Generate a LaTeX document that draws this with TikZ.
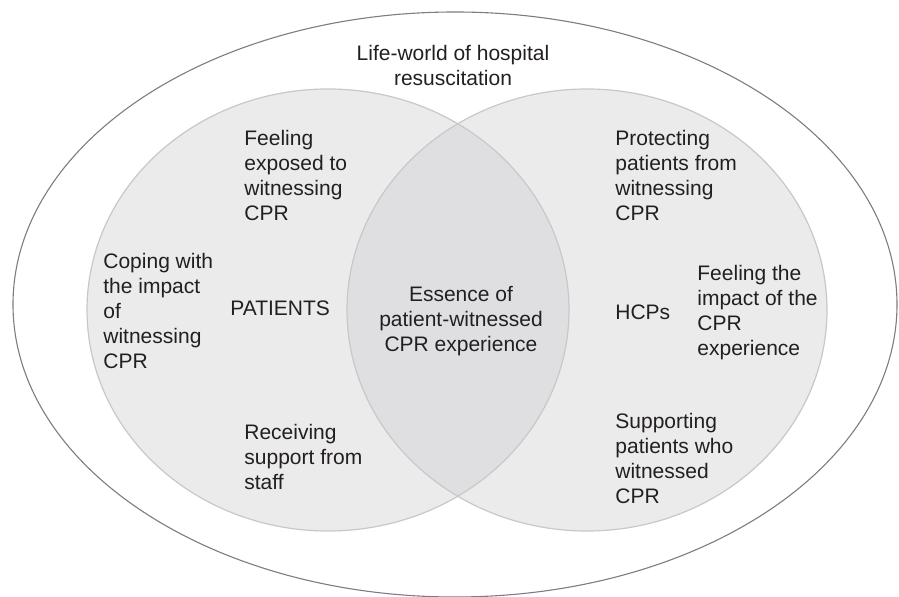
\documentclass[tikz,border=0pt]{standalone}
\usepackage{fontspec}
\setmainfont{Liberation Sans}
\definecolor{zonefill}{RGB}{235,235,236}
\definecolor{lensfill}{RGB}{223,223,225}
\definecolor{zoneline}{RGB}{200,200,202}
\definecolor{worldline}{RGB}{125,125,125}
\definecolor{txt}{RGB}{35,31,32}

\begin{document}
\begin{tikzpicture}[
        x=0.5pt, y=-0.5pt,
        tag/.style={align=left, inner sep=0pt, text=txt, font=\fontsize{10.5}{12.5}\selectfont},
        ctag/.style={tag, align=center},
        zone/.style={draw=zoneline, line width=0.6pt},
        world/.style={draw=worldline, line width=0.55pt}
      ]
      \useasboundingbox (0,0) rectangle (899,597);

      % outer life-world
      \draw[world] (455,304.5) ellipse [x radius=442, y radius=292.5];

      % patients and HCPs
      \fill[zonefill] (328,310) ellipse [x radius=241, y radius=221];
      \fill[zonefill] (587,310) ellipse [x radius=240, y radius=221];
      \begin{scope}
        \clip (328,310) ellipse [x radius=241, y radius=221];
        \fill[lensfill] (587,310) ellipse [x radius=240, y radius=221];
      \end{scope}
      \draw[zone] (328,310) ellipse [x radius=241, y radius=221];
      \draw[zone] (587,310) ellipse [x radius=240, y radius=221];

      \node (LW) at (453,44.5) [ctag, anchor=north] {Life-world of hospital\\resuscitation};

      \node (FE) at (244,129.5) [tag, anchor=north west] {Feeling\\exposed to\\witnessing\\CPR};
      \node (CI) at (103,253) [tag, anchor=north west] {Coping with\\the impact\\of\\witnessing\\CPR};
      \node (PT) at (230,315.5) [tag, anchor=base west] {PATIENTS};
      \node (RS) at (244,423.5) [tag, anchor=north west] {Receiving\\support from\\staff};

      \node (ES) at (461,285.5) [ctag, anchor=north] {Essence of\\patient-witnessed\\CPR experience};

      \node (PP) at (615,129.5) [tag, anchor=north west] {Protecting\\patients from\\witnessing\\CPR};
      \node (HC) at (615,319.5) [tag, anchor=base west] {HCPs};
      \node (FI) at (697,264.5) [tag, anchor=north west] {Feeling the\\impact of the\\CPR\\experience};
      \node (SP) at (615,412.5) [tag, anchor=north west] {Supporting\\patients who\\witnessed\\CPR};
    \end{tikzpicture}
\end{document}
